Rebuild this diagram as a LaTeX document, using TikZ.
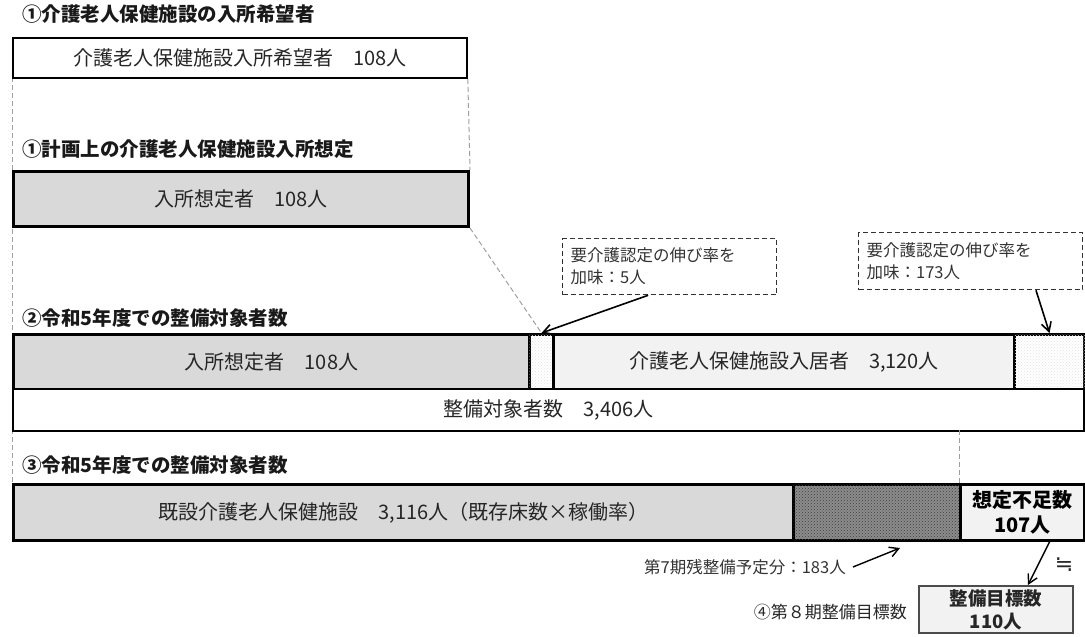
\documentclass[tikz,border=0pt]{standalone}
\usepackage{fontspec}
\setmainfont{Noto Sans CJK JP}
\newfontfamily\symfont{DejaVu Sans}
\usetikzlibrary{patterns,arrows.meta,calc}
\begin{document}
\begin{tikzpicture}[x=1pt,y=-1pt,
  base/.style={font=\fontsize{20}{23}\selectfont, text=black!85},
  ttl/.style={font=\fontsize{19.5}{23}\selectfont\bfseries, anchor=west, inner sep=0pt, text=black!90},
  boxc/.style={base, anchor=north west, inner sep=0pt, align=center},
  thickbox/.style={boxc, draw=black, line width=3pt},
  thinbox/.style={boxc, draw=black, line width=1.8pt},
  guide/.style={draw=gray!75, line width=1pt, dash pattern=on 5pt off 3pt},
  callout/.style={draw=black!80, line width=1.3pt, dash pattern=on 5pt off 3pt, anchor=north west,
     font=\fontsize{16.5}{22}\selectfont, text=black!80, align=left, inner xsep=8pt, inner ysep=0pt},
  arr/.style={draw=black, -{Straight Barb[length=9pt,width=10pt]}, line width=1.6pt},
  lightdots/.style={pattern=crosshatch dots, pattern color=gray!22}
]
\useasboundingbox (0,0) rectangle (1085,637);

% titles
\node[ttl] (t1) at (22,14) {①介護老人保健施設の入所希望者};
\node[ttl] (t2) at (22,149) {①計画上の介護老人保健施設入所想定};
\node[ttl] (t3) at (22,318) {②令和5年度での整備対象者数};
\node[ttl] (t4) at (22,465) {③令和5年度での整備対象者数};

% guide lines (behind)
\coordinate (gL1) at (12,77);
\coordinate (gL2) at (12,483);
\draw[guide] (gL1) -- (gL2);

% box 1
\node[thinbox, fill=white, minimum width=454pt, minimum height=40pt] (b1) at (12,37) {介護老人保健施設入所希望者　108人};
% box 2
\node[thickbox, fill=black!15, minimum width=455pt, minimum height=55pt] (b2) at (12,170) {入所想定者　108人};

\draw[guide] (b1.south east) -- (b2.north east);

% row 2
\node[thickbox, fill=black!15, minimum width=516pt, minimum height=55pt] (r2a) at (12,333) {入所想定者　108人};
\node[thickbox, fill=white, minimum width=24pt, minimum height=55pt] (r2b) at (528,333) {};
\fill[lightdots] ([shift={(1.5pt,-1.5pt)}]r2b.north west) rectangle ([shift={(-1.5pt,1.5pt)}]r2b.south east);
\node[thickbox, fill=black!5, minimum width=461pt, minimum height=55pt] (r2c) at (552,333) {介護老人保健施設入居者　3,120人};
\node[thickbox, fill=white, minimum width=70pt, minimum height=55pt] (r2d) at (1013,333) {};
\fill[lightdots] ([shift={(1.5pt,-1.5pt)}]r2d.north west) rectangle ([shift={(-1.5pt,1.5pt)}]r2d.south east);
\node[thinbox, fill=white, minimum width=1071pt, minimum height=42pt] (tot) at (12,388) {整備対象者数　3,406人};

\draw[guide] (b2.south east) -- (r2b.north);

% row 3
\coordinate (gV) at (959,430);
\node[thickbox, fill=black!15, minimum width=780pt, minimum height=56pt] (r3a) at (12,483) {既設介護老人保健施設　3,116人（既存床数×稼働率）};
\node[thickbox, fill=black!45, minimum width=167pt, minimum height=56pt] (r3b) at (792,483) {};
\fill[pattern=crosshatch dots, pattern color=black!75] ([shift={(1.5pt,-1.5pt)}]r3b.north west) rectangle ([shift={(-1.5pt,1.5pt)}]r3b.south east);
\node[thickbox, fill=black!5, minimum width=124pt, minimum height=56pt, font=\fontsize{20}{25}\selectfont\bfseries, text=black] (r3c) at (959,483) {想定不足数\\107人};
\draw[guide] (gV) -- (r3c.north west);

% callouts
\node[callout, text width=198pt, minimum height=56pt] (c1) at (562,238) {要介護認定の伸び率を\\加味：5人};
\node[callout, text width=208pt, minimum height=57pt] (c2) at (858,232) {要介護認定の伸び率を\\加味：173人};
\draw[arr] ($(c1.south west)!0.4!(c1.south east)$) -- (r2b.north);
\draw[arr] ($(c2.south west)!0.79!(c2.south east)$) -- (r2d.north);

% bottom
\node[anchor=east, font=\fontsize{16.5}{18}\selectfont, text=black!80, inner sep=0pt] (l183) at (846,567) {第7期残整備予定分：183人};
\coordinate (a183) at (900,548);
\draw[arr, line width=1.4pt] ([xshift=7pt]l183.east) -- (a183);

\node[anchor=north west, draw=gray!60!black, line width=2pt, fill=black!5, minimum width=154pt, minimum height=47pt,
  font=\fontsize{18.5}{23}\selectfont\bfseries, text=black!85, align=center, inner sep=0pt] (goal) at (918,585) {整備目標数\\110人};
\node[anchor=east, font=\fontsize{17}{20}\selectfont, text=black!85, inner sep=0pt] (l4) at (907,612) {④第８期整備目標数};
\coordinate (gs) at (1050,541);
\draw[arr, line width=1.4pt] (gs) -- ([xshift=-8pt]goal.north -| 1036,0);
\node[font=\symfont\fontsize{22}{24}\selectfont, text=black!85, inner sep=0pt] (approx) at (1064,565) {≒};
\end{tikzpicture}
\end{document}
